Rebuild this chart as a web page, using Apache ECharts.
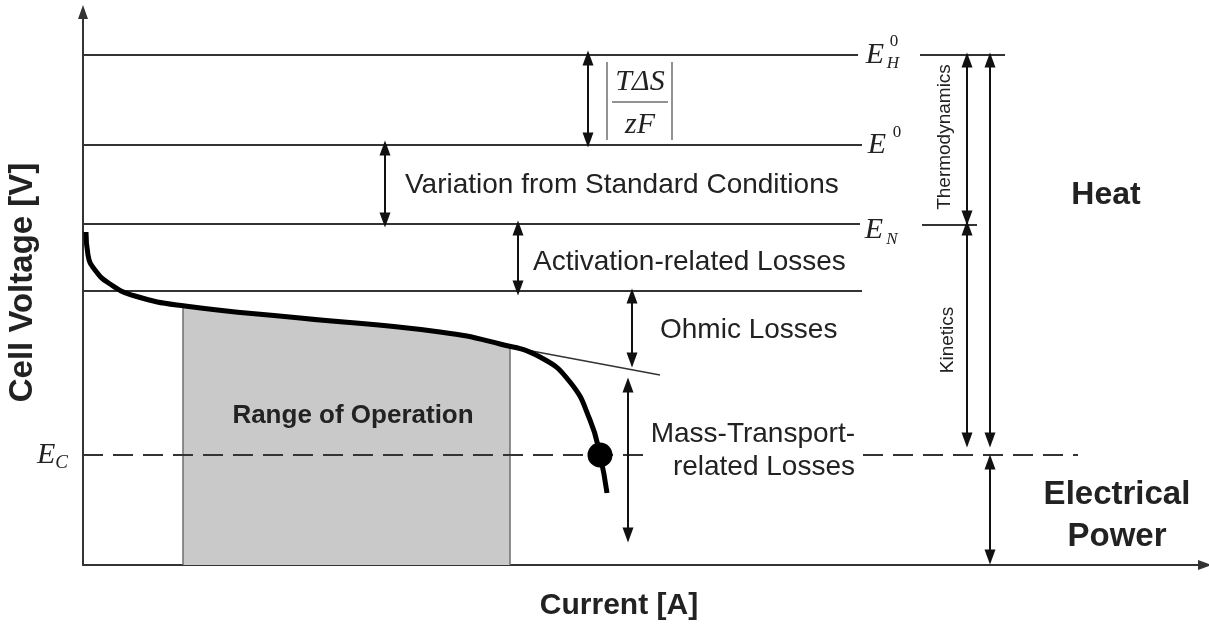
<!DOCTYPE html>
<html>
<head>
<meta charset="utf-8">
<title>polarization curve</title>
<script src="https://cdn.jsdelivr.net/npm/echarts@6/dist/echarts.min.js"></script>
<style>html,body{margin:0;padding:0;background:#fff;}</style>
</head>
<body>
<div id="main" style="width:1209px;height:625px;"></div>
<script type="text/javascript">
// schematic units: x = current, y = cell voltage
var xMax = 1122, yMax = 553;

// polarization curve
var curveX = [3, 5, 12, 27, 52, 102, 217, 357, 417, 457, 487, 507, 517, 524];
var curveY = [333, 310, 295, 281, 269, 259, 247, 233, 221, 208, 183, 145, 110, 72];

// voltage levels: E_H0, E0, E_N, ohmic start
var levelY = [510, 420, 341, 274];
var levelEnd = [775, 779, 777, 779];
var ecLevel = 110, ecEnd = 995;
// short lines right of the labels [xFrom, xTo, y]
var sideLevels = [[837, 922, 510], [839, 894, 340]];

var opRange = [100, 427];
var ecPoint = [517, 110];
var tangent = [[422, 219], [577, 190]];

// double arrows
var arrowX  = [505, 302, 435, 549, 545, 884, 884, 907, 907];
var arrowY1 = [507, 417, 337, 269, 180, 505, 337, 505, 103];
var arrowY2 = [425, 345, 277, 205, 30, 347, 125, 125, 8];

// T dS / zF fraction frame
var fracBarX = [524, 589], fracTop = 503, fracBottom = 425;
var fracLine = [529, 585, 463];

// sans annotations
var noteText = ['Variation from Standard Conditions', 'Activation-related Losses', 'Ohmic Losses'];
var noteX = [322, 450, 577];
var noteY = [380, 303, 235];

var sans = "'Liberation Sans', Arial, sans-serif";
var serif = "'Liberation Serif', 'DejaVu Serif', serif";
var ink = '#222';

function interp(x) {
    for (var i = 1; i < curveX.length; i++) {
        if (curveX[i] >= x) {
            var t = (x - curveX[i - 1]) / (curveX[i] - curveX[i - 1]);
            return curveY[i - 1] + t * (curveY[i] - curveY[i - 1]);
        }
    }
    return curveY[curveY.length - 1];
}

function seg(x1, y1, x2, y2, style) {
    var a = {coord: [x1, y1]};
    if (style) a.lineStyle = style;
    return [a, {coord: [x2, y2]}];
}

function txt(x, y, text, style) {
    return {
        value: [x, y],
        label: Object.assign({
            show: true, position: 'inside', formatter: text,
            color: ink, fontFamily: sans, fontSize: 28
        }, style || {})
    };
}

var curveData = curveX.map(function (x, i) { return [x, curveY[i]]; });

var areaData = [[opRange[0], interp(opRange[0])]];
curveX.forEach(function (x, i) {
    if (x > opRange[0] && x < opRange[1]) areaData.push([x, curveY[i]]);
});
areaData.push([opRange[1], interp(opRange[1])]);

var levelLines = levelY.map(function (y, i) { return seg(0, y, levelEnd[i], y); });
sideLevels.forEach(function (s) { levelLines.push(seg(s[0], s[2], s[1], s[2])); });
levelLines.push(seg(tangent[0][0], tangent[0][1], tangent[1][0], tangent[1][1], {width: 1.5}));

var arrowLines = arrowX.map(function (x, i) { return seg(x, arrowY1[i], x, arrowY2[i]); });

var greyLines = [
    seg(fracBarX[0], fracTop, fracBarX[0], fracBottom),
    seg(fracBarX[1], fracTop, fracBarX[1], fracBottom),
    seg(fracLine[0], fracLine[2], fracLine[1], fracLine[2]),
    seg(opRange[0], 0, opRange[0], interp(opRange[0])),
    seg(opRange[1], 0, opRange[1], interp(opRange[1]))
];

var labels = [];
noteText.forEach(function (t, i) {
    labels.push(txt(noteX[i], noteY[i], t, {align: 'left'}));
});
labels.push(txt(772, 114, 'Mass-Transport-\nrelated Losses', {align: 'right', lineHeight: 33, backgroundColor: '#fff'}));
labels.push(txt(270, 149, 'Range of Operation', {fontWeight: 'bold', fontSize: 26}));
labels.push(txt(1023, 370, 'Heat', {fontWeight: 'bold', fontSize: 32}));
labels.push(txt(1034, 49, 'Electrical\nPower', {fontWeight: 'bold', fontSize: 33, lineHeight: 42}));
labels.push(txt(862, 428, 'Thermodynamics', {fontSize: 19, rotate: 90}));
labels.push(txt(865, 225, 'Kinetics', {fontSize: 19, rotate: 90}));
// E symbols
var eStyle = {fontFamily: serif, fontStyle: 'italic', fontSize: 30};
var sStyle = {fontFamily: serif, fontSize: 17};
var iStyle = {fontFamily: serif, fontStyle: 'italic', fontSize: 17};
labels.push(txt(792, 510, 'E', eStyle));
labels.push(txt(811, 523, '0', sStyle));
labels.push(txt(810, 501, 'H', iStyle));
labels.push(txt(794, 420, 'E', eStyle));
labels.push(txt(814, 432, '0', sStyle));
labels.push(txt(791, 335, 'E', eStyle));
labels.push(txt(809, 325, 'N', iStyle));
labels.push(txt(557, 483, 'T\u0394S', {fontFamily: serif, fontStyle: 'italic', fontSize: 30}));
labels.push(txt(557, 440, 'zF', {fontFamily: serif, fontStyle: 'italic', fontSize: 30}));

var myChart = echarts.init(document.getElementById('main'));

option = {
    backgroundColor: '#fff',
    animation: false,
    grid: {left: 83, right: 4, top: 12, bottom: 60, outerBoundsMode: 'none'},
    xAxis: {
        type: 'value', min: 0, max: xMax,
        name: 'Current [A]', nameLocation: 'middle', nameGap: 26, nameMoveOverlap: false,
        nameTextStyle: {color: ink, fontFamily: sans, fontWeight: 'bold', fontSize: 30, padding: [0, 50, 0, 0]},
        axisLine: {show: true, symbol: ['none', 'triangle'], symbolSize: [10, 14], lineStyle: {color: '#333', width: 2}},
        axisTick: {show: false}, axisLabel: {show: false}, splitLine: {show: false}
    },
    yAxis: {
        type: 'value', min: 0, max: yMax,
        name: 'Cell Voltage [V]', nameLocation: 'middle', nameGap: 44, nameRotate: 90, nameMoveOverlap: false,
        nameTextStyle: {color: ink, fontFamily: sans, fontWeight: 'bold', fontSize: 33, padding: [0, 0, 0, 12]},
        axisLine: {show: true, symbol: ['none', 'triangle'], symbolSize: [10, 14], lineStyle: {color: '#333', width: 2}},
        axisTick: {show: false}, splitLine: {show: false},
        axisLabel: {
            show: true, customValues: [ecLevel], margin: 15,
            formatter: function () { return '{e|E}{c|C}'; },
            rich: {
                e: {fontFamily: serif, fontStyle: 'italic', fontSize: 30, color: ink, lineHeight: 34},
                c: {fontFamily: serif, fontStyle: 'italic', fontSize: 19, color: ink, verticalAlign: 'bottom', lineHeight: 34, padding: [10, 0, 0, 0]}
            }
        }
    },
    series: [
        {
            name: 'operation', type: 'line', data: areaData, symbol: 'none', z: 1, smooth: 0.3,
            lineStyle: {width: 0}, areaStyle: {color: '#c9c9c9', opacity: 1}
        },
        {
            name: 'frames', type: 'line', data: [], z: 2,
            markLine: {silent: true, symbol: 'none', label: {show: false},
                lineStyle: {color: '#6e6e6e', width: 1.5, type: 'solid'}, data: greyLines}
        },
        {
            name: 'levels', type: 'line', data: [], z: 3,
            markLine: {silent: true, symbol: 'none', label: {show: false},
                lineStyle: {color: '#333', width: 1.8, type: 'solid'}, data: levelLines}
        },
        {
            name: 'ec', type: 'line', data: [], z: 3,
            markLine: {silent: true, symbol: 'none', label: {show: false},
                lineStyle: {color: '#333', width: 1.8, type: [20, 10]},
                data: [seg(0, ecLevel, ecEnd, ecLevel)]}
        },
        {
            name: 'arrows', type: 'line', data: [], z: 4,
            markLine: {silent: true, symbol: ['triangle', 'triangle'], symbolSize: [11, 15], label: {show: false},
                lineStyle: {color: '#111', width: 2, type: 'solid'}, data: arrowLines}
        },
        {
            name: 'curve', type: 'line', data: curveData, symbol: 'none', z: 5,
            smooth: 0.5,
            lineStyle: {color: '#000', width: 5}
        },
        {
            name: 'Ec point', type: 'scatter', data: [ecPoint], z: 6,
            symbolSize: 25, itemStyle: {color: '#000', opacity: 1}
        },
        {
            name: 'labels', type: 'scatter', data: labels, z: 7, clip: false,
            symbolSize: 1, itemStyle: {color: 'transparent', opacity: 1}
        }
    ]
};

myChart.setOption(option);
</script>
</body>
</html>
